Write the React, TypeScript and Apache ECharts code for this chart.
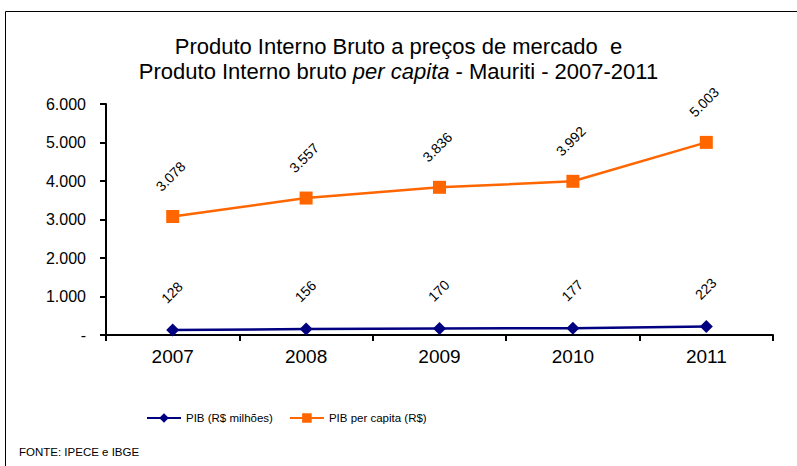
import React, { useEffect, useRef } from "react";
import * as echarts from "echarts";

const years = ["2007", "2008", "2009", "2010", "2011"];
const pibMilhoes = [128, 156, 170, 177, 223];
const pibPerCapita = [3078, 3557, 3836, 3992, 5003];
const yTicks = [0, 1000, 2000, 3000, 4000, 5000, 6000];

const fmt = (v: number) =>
  v === 0 ? "-" : v.toLocaleString("de-DE");

export default function App() {
  const ref = useRef<HTMLDivElement>(null);
  useEffect(() => {
    const chart = echarts.init(ref.current!, undefined, { renderer: "svg" });
    const font = "Liberation Sans, Arial, sans-serif";
    chart.setOption({
      animation: false,
      backgroundColor: "#fff",
      textStyle: { fontFamily: font },
      title: {
        text: "Produto Interno Bruto a preços de mercado  e\nProduto Interno bruto {i|per capita} - Mauriti - 2007-2011",
        left: "center",
        top: 29,
        textStyle: {
          fontSize: 22,
          fontWeight: "normal",
          color: "#000",
          lineHeight: 25,
          fontFamily: font,
          rich: { i: { fontStyle: "italic", fontSize: 22, fontFamily: font } },
        },
      },
      graphic: [
        {
          type: "rect",
          shape: { x: 5.5, y: 11.5, width: 1000, height: 1000 },
          style: { fill: "none", stroke: "#000", lineWidth: 1 },
        },
        {
          type: "text",
          left: 19,
          top: 446,
          style: { text: "FONTE: IPECE e IBGE", fontSize: 11.5, fill: "#000", fontFamily: font },
        },
      ],
      legend: {
        top: 407,
        left: 141,
        itemWidth: 34,
        itemHeight: 12,
        itemGap: 16,
        textStyle: { fontSize: 11.5, color: "#000", fontFamily: font },
        data: [
          { name: "PIB (R$ milhões)" },
          { name: "PIB per capita (R$)" },
        ],
      },
      grid: { left: 106, right: 24, top: 104, bottom: 131 },
      xAxis: {
        type: "category",
        data: years,
        boundaryGap: true,
        axisLine: { lineStyle: { color: "#000", width: 2 } },
        axisTick: { show: true, length: 6, lineStyle: { color: "#000", width: 2 } },
        axisLabel: { fontSize: 19, color: "#000", margin: 12, fontFamily: font },
      },
      yAxis: {
        type: "value",
        min: 0,
        max: 6000,
        interval: 1000,
        splitLine: { show: false },
        axisLine: { show: true, lineStyle: { color: "#000", width: 2 } },
        axisTick: { show: true, length: 6, lineStyle: { color: "#000", width: 2 } },
        axisLabel: {
          fontSize: 16,
          color: "#000",
          margin: 20,
          fontFamily: font,
          formatter: (v: number) => (yTicks.includes(v) ? fmt(v) : ""),
        },
      },
      series: [
        {
          name: "PIB (R$ milhões)",
          type: "line",
          data: pibMilhoes,
          symbol: "diamond",
          symbolSize: 13,
          color: "#000080",
          lineStyle: { width: 2.5, color: "#000080" },
          itemStyle: { color: "#000080" },
          label: {
            show: true,
            position: "top",
            rotate: 45,
            distance: 22,
            offset: [6, 0],
            fontSize: 14,
            color: "#000",
            fontFamily: font,
            formatter: (p: any) => fmt(p.value),
          },
        },
        {
          name: "PIB per capita (R$)",
          type: "line",
          data: pibPerCapita,
          symbol: "rect",
          symbolSize: 13,
          color: "#FF6600",
          lineStyle: { width: 2.5, color: "#FF6600" },
          itemStyle: { color: "#FF6600" },
          label: {
            show: true,
            position: "top",
            rotate: 45,
            distance: 26,
            offset: [4, 0],
            fontSize: 14,
            color: "#000",
            fontFamily: font,
            formatter: (p: any) => fmt(p.value),
          },
        },
      ],
    });
    return () => chart.dispose();
  }, []);
  return <div ref={ref} style={{ width: 797, height: 466, position: "absolute", left: 0, top: 0 }} />;
}
